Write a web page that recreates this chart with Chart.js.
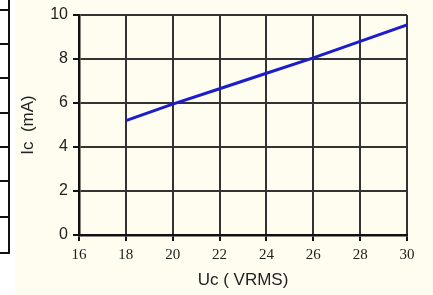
<!DOCTYPE html>
<html>
<head>
<meta charset="utf-8">
<script src="https://cdn.jsdelivr.net/npm/chart.js@4.4.0/dist/chart.umd.min.js"></script>
<style>
  html, body { margin: 0; padding: 0; background: #ffffff; }
  #wrap { position: relative; width: 433px; height: 295px; overflow: hidden; }
  #panel { position: absolute; left: 15px; top: 0; width: 418px; height: 295px; background: #fefdf0; }
  #table { position: absolute; left: 0; top: 0; width: 10px; height: 254px; border-right: 2px solid #111; box-sizing: border-box; }
  .row { position: absolute; left: 0; width: 10px; height: 2px; background: #111; }
</style>
</head>
<body>
<div id="wrap">
  <div id="table"></div>
  <div id="panel"><canvas id="line-chart" width="418" height="295"></canvas></div>
</div>
<script>
"use strict";

// data
var uc = [18, 20, 22, 24, 26, 28, 30];
var ic = [5.2, 5.95, 6.65, 7.35, 8.05, 8.8, 9.55];
var xTicks = [16, 18, 20, 22, 24, 26, 28, 30];
var yTicks = [0, 2, 4, 6, 8, 10];
var tableRows = [10, 44, 78, 113, 147, 181, 217, 253];

// left table fragment
var table = document.getElementById('table');
tableRows.forEach(function (y) {
    var d = document.createElement('div');
    d.className = 'row';
    d.style.top = (y - 1) + 'px';
    table.appendChild(d);
});

var points = uc.map(function (x, i) { return { x: x, y: ic[i] }; });

var gridColor = '#333333';

new Chart(document.getElementById('line-chart'), {
    type: 'scatter',
    data: {
        datasets: [{
            label: 'Ic',
            data: points,
            showLine: true,
            borderColor: '#1c1ccc',
            borderWidth: 3,
            pointRadius: 0,
            fill: false
        }]
    },
    options: {
        responsive: false,
        animation: false,
        layout: { padding: { top: 15, right: 26, left: 0, bottom: 0 } },
        plugins: { legend: { display: false }, tooltip: { enabled: false } },
        scales: {
            x: {
                type: 'linear',
                min: 16,
                max: 30,
                afterBuildTicks: function (s) { s.ticks = xTicks.map(function (v) { return { value: v }; }); },
                afterFit: function (s) { s.height = 60; },
                grid: { color: gridColor, lineWidth: 2, tickLength: 6, tickColor: '#111' },
                border: { color: '#111', width: 2.5 },
                ticks: {
                    color: '#222',
                    padding: 5,
                    maxRotation: 0,
                    font: { family: '"Liberation Serif", "Times New Roman", serif', size: 15 }
                },
                title: {
                    display: true,
                    text: 'Uc ( VRMS)',
                    color: '#222',
                    padding: { top: 2, bottom: 4 },
                    font: { family: '"Liberation Sans", Arial, sans-serif', size: 17 }
                }
            },
            y: {
                type: 'linear',
                min: 0,
                max: 10,
                afterBuildTicks: function (s) { s.ticks = yTicks.map(function (v) { return { value: v }; }); },
                afterFit: function (s) { s.width = 64; },
                grid: { color: gridColor, lineWidth: 2, tickLength: 6, tickColor: '#111' },
                border: { color: '#111', width: 2.5 },
                ticks: {
                    color: '#222',
                    padding: 5,
                    font: { family: '"Liberation Sans", Arial, sans-serif', size: 16 }
                },
                title: {
                    display: true,
                    text: 'Ic  (mA)',
                    color: '#222',
                    padding: { top: 3, bottom: 0 },
                    font: { family: '"Liberation Sans", Arial, sans-serif', size: 17 }
                }
            }
        }
    }
});
</script>
</body>
</html>
